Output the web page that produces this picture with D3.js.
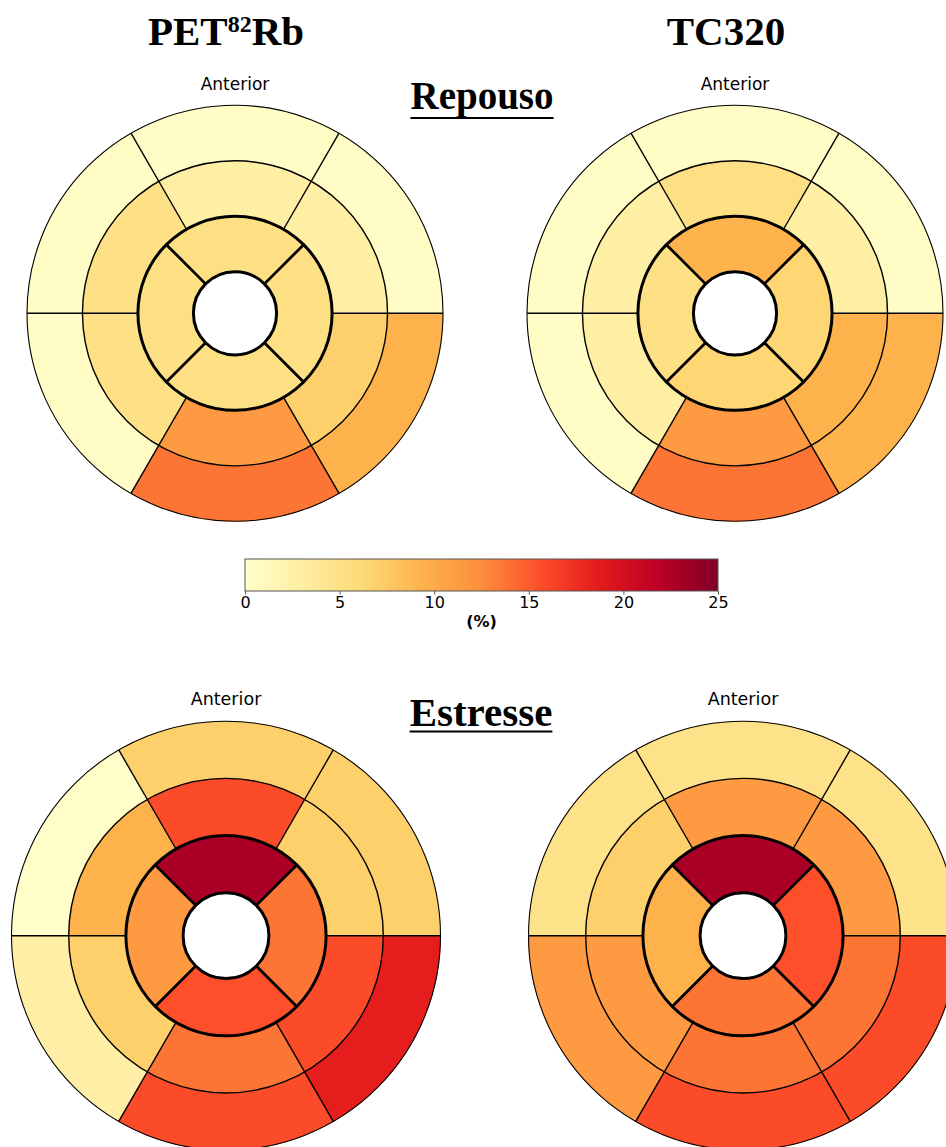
<!DOCTYPE html>
<html>
<head>
<meta charset="utf-8">
<script src="https://cdn.jsdelivr.net/npm/d3@7"></script>
<style>
    body { margin: 0; background: #fff; }
    svg { display: block; }
</style>
</head>
<body>
<div id="chart"></div>
<script>

// Segment values (%), AHA order: 1-6 basal, 7-12 mid, 13-16 apical (17 = apex, left blank)
const petRest   = [0.5, 0.5, 0.5, 13.7, 9.4, 0.5,   2.8, 5.0, 5.0, 11.4, 7.0, 2.8,   5.2, 5.2, 5.2, 5.2];
const tcRest    = [0.5, 0.5, 0.5, 13.7, 9.4, 0.5,   5.2, 2.8, 2.8, 11.4, 9.4, 2.8,   9.3, 5.2, 6.5, 6.5];
const petStress = [7.0, 0.3, 2.7, 15.8, 18.5, 7.0,  15.8, 9.4, 7.0, 13.7, 15.8, 7.0,  22.8, 11.4, 15.6, 13.7];
const tcStress  = [4.8, 4.8, 11.4, 15.8, 15.8, 4.8, 11.4, 7.0, 11.4, 13.7, 13.7, 11.4, 22.8, 9.4, 13.7, 15.6];

const methods = ["PET", "TC320"];
const conditions = ["Repouso", "Estresse"];
const colorTicks = [0, 5, 10, 15, 20, 25];

// matplotlib YlOrRd anchor colours
const ylOrRd = ["#ffffcc", "#ffeda0", "#fed976", "#feb24c", "#fd8d3c",
                "#fc4e2a", "#e31a1c", "#bd0026", "#800026"];

const W = 946, H = 1147;
const vmin = 0, vmax = 25;

const color = d3.scaleLinear()
    .domain(ylOrRd.map((c, i) => vmin + i * (vmax - vmin) / (ylOrRd.length - 1)))
    .range(ylOrRd)
    .interpolate(d3.interpolateRgb)
    .clamp(true);

const svg = d3.select("#chart").append("svg")
    .attr("width", W)
    .attr("height", H);


class Bullseye {

    constructor(parent, data, cx, cy, radius, fontSize) {
        this.parent = parent;
        this.data = data;
        this.cx = cx;
        this.cy = cy;
        this.radius = radius;
        this.fontSize = fontSize;
        this.initVis();
    }

    initVis() {
        let vis = this;

        // ring edges, as in the matplotlib bullseye: linspace(0.2, 1, 4)
        vis.edges = [0.2, 0.2 + 0.8 / 3, 0.2 + 1.6 / 3, 1.0];
        vis.r = d3.scaleLinear().domain([0, 1]).range([0, vis.radius]);

        vis.g = vis.parent.append("g")
            .attr("transform", "translate(" + vis.cx + "," + vis.cy + ")");

        vis.arc = d3.arc()
            .innerRadius(d => vis.r(d.inner))
            .outerRadius(d => vis.r(d.outer))
            .startAngle(d => d.start)
            .endAngle(d => d.end);

        vis.wrangleData();
    }

    wrangleData() {
        let vis = this;
        let rad = Math.PI / 180;

        vis.segments = vis.data.map(function (v, i) {
            let ring, k, n, offset;
            if (i < 6) { ring = 2; k = i; n = 6; offset = 60; }
            else if (i < 12) { ring = 1; k = i - 6; n = 6; offset = 60; }
            else { ring = 0; k = i - 12; n = 4; offset = 45; }
            // polar angle counter-clockwise from east -> d3 angle clockwise from north
            let t0 = offset + k * 360 / n, t1 = t0 + 360 / n;
            return {
                value: v,
                inner: vis.edges[ring],
                outer: vis.edges[ring + 1],
                start: (90 - t1) * rad,
                end: (90 - t0) * rad
            };
        });

        vis.updateVis();
    }

    updateVis() {
        let vis = this;

        vis.g.selectAll(".seg")
            .data(vis.segments)
            .enter()
            .append("path")
            .attr("class", "seg")
            .attr("d", vis.arc)
            .attr("fill", d => color(d.value))
            .attr("stroke", d => color(d.value))
            .attr("stroke-width", 0.6);

        // apex (segment 17) left white
        vis.g.append("circle")
            .attr("r", vis.r(vis.edges[0]))
            .attr("fill", "#fff");

        // thin radial lines, basal + mid rings
        vis.g.selectAll(".rad-thin")
            .data(d3.range(0, 360, 60))
            .enter()
            .append("line")
            .attr("class", "rad-thin")
            .attr("x1", d => vis.r(vis.edges[1]) * Math.cos(d * Math.PI / 180))
            .attr("y1", d => -vis.r(vis.edges[1]) * Math.sin(d * Math.PI / 180))
            .attr("x2", d => vis.r(1) * Math.cos(d * Math.PI / 180))
            .attr("y2", d => -vis.r(1) * Math.sin(d * Math.PI / 180))
            .attr("stroke", "#000")
            .attr("stroke-width", 1.4);

        // thick radial lines, apical ring
        vis.g.selectAll(".rad-thick")
            .data(d3.range(45, 360, 90))
            .enter()
            .append("line")
            .attr("class", "rad-thick")
            .attr("x1", d => vis.r(vis.edges[0]) * Math.cos(d * Math.PI / 180))
            .attr("y1", d => -vis.r(vis.edges[0]) * Math.sin(d * Math.PI / 180))
            .attr("x2", d => vis.r(vis.edges[1]) * Math.cos(d * Math.PI / 180))
            .attr("y2", d => -vis.r(vis.edges[1]) * Math.sin(d * Math.PI / 180))
            .attr("stroke", "#000")
            .attr("stroke-width", 2.8);

        let rings = [
            {r: vis.edges[0], w: 3},
            {r: vis.edges[1], w: 3},
            {r: vis.edges[2], w: 1.4},
            {r: vis.edges[3], w: 1.1}
        ];
        vis.g.selectAll(".ring")
            .data(rings)
            .enter()
            .append("circle")
            .attr("class", "ring")
            .attr("r", d => vis.r(d.r))
            .attr("fill", "none")
            .attr("stroke", "#000")
            .attr("stroke-width", d => d.w);

        vis.g.append("text")
            .attr("x", 0)
            .attr("y", -vis.r(1) - vis.fontSize * 0.92)
            .attr("text-anchor", "middle")
            .attr("font-family", "DejaVu Sans")
            .attr("font-size", vis.fontSize)
            .attr("fill", "#000")
            .text("Anterior");
    }
}

new Bullseye(svg, petRest, 235, 313.3, 208, 17);
new Bullseye(svg, tcRest, 735, 313.3, 208, 17);
new Bullseye(svg, petStress, 226, 935.7, 214.5, 17.5);
new Bullseye(svg, tcStress, 743, 935.7, 214.5, 17.5);

// column titles
let serif = "'Liberation Serif', 'Times New Roman', serif";
let t1 = svg.append("text")
    .attr("x", 226).attr("y", 45)
    .attr("text-anchor", "middle")
    .attr("font-family", serif)
    .attr("font-weight", "bold")
    .attr("font-size", 41);
t1.append("tspan").text(methods[0]);
t1.append("tspan").attr("font-size", 24).attr("dy", -13).text("82");
t1.append("tspan").attr("dy", 13).text("Rb");

svg.append("text")
    .attr("x", 726).attr("y", 44.5)
    .attr("text-anchor", "middle")
    .attr("font-family", serif)
    .attr("font-weight", "bold")
    .attr("font-size", 41)
    .text(methods[1]);

// condition titles, underlined
[{label: conditions[0], x: 482, y: 109.3, size: 39, ul: 118},
 {label: conditions[1], x: 481, y: 725.7, size: 41, ul: 731.5}].forEach(function (c) {
    let t = svg.append("text")
        .attr("x", c.x).attr("y", c.y)
        .attr("text-anchor", "middle")
        .attr("font-family", serif)
        .attr("font-weight", "bold")
        .attr("font-size", c.size)
        .text(c.label);
    let w = t.node().getComputedTextLength();
    svg.append("line")
        .attr("x1", c.x - w / 2).attr("x2", c.x + w / 2)
        .attr("y1", c.ul).attr("y2", c.ul)
        .attr("stroke", "#000")
        .attr("stroke-width", 2);
});

// colour bar
let cb = {x0: 245, x1: 718, y: 559, h: 32};
let defs = svg.append("defs");
let grad = defs.append("linearGradient")
    .attr("id", "cbar")
    .attr("x1", "0%").attr("x2", "100%")
    .attr("y1", "0%").attr("y2", "0%");
grad.selectAll("stop")
    .data(color.domain())
    .enter()
    .append("stop")
    .attr("offset", d => (100 * (d - vmin) / (vmax - vmin)) + "%")
    .attr("stop-color", d => color(d));

svg.append("rect")
    .attr("x", cb.x0).attr("y", cb.y)
    .attr("width", cb.x1 - cb.x0).attr("height", cb.h)
    .attr("fill", "url(#cbar)")
    .attr("stroke", "#555")
    .attr("stroke-width", 1);

let cx = d3.scaleLinear().domain([vmin, vmax]).range([cb.x0, cb.x1]);
let axis = svg.append("g")
    .attr("transform", "translate(0," + (cb.y + cb.h) + ")")
    .call(d3.axisBottom(cx).tickValues(colorTicks).tickSize(3.5).tickPadding(2).tickFormat(d3.format("d")));
axis.select(".domain").remove();
axis.selectAll(".tick line").attr("stroke", "#555");
axis.selectAll(".tick text")
    .attr("font-family", "DejaVu Sans")
    .attr("font-size", 16)
    .attr("fill", "#000");

svg.append("text")
    .attr("x", 481.5).attr("y", 627)
    .attr("text-anchor", "middle")
    .attr("font-family", "DejaVu Sans")
    .attr("font-weight", "bold")
    .attr("font-size", 16)
    .text("(%)");

</script>
</body>
</html>
